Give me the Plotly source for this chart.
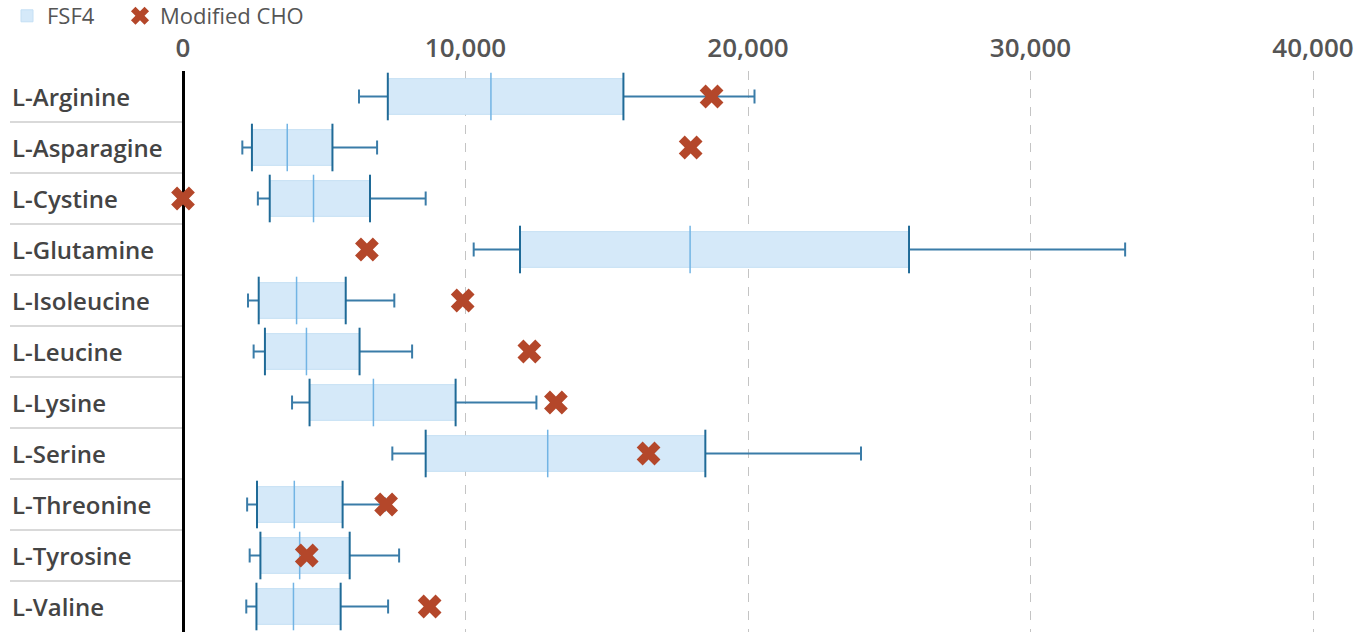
import plotly.graph_objects as go

# Amino acid concentrations: FSF4 distribution summary vs. Modified CHO
amino_acids = ["L-Arginine", "L-Asparagine", "L-Cystine", "L-Glutamine", "L-Isoleucine",
               "L-Leucine", "L-Lysine", "L-Serine", "L-Threonine", "L-Tyrosine", "L-Valine"]
fsf4_low = [6230, 2100, 2650, 10290, 2300, 2500, 3860, 7410, 2270, 2360, 2240]
fsf4_q1 = [7250, 2440, 3070, 11930, 2680, 2900, 4480, 8590, 2620, 2740, 2600]
fsf4_median = [10900, 3690, 4620, 17950, 4020, 4370, 6740, 12910, 3940, 4130, 3910]
fsf4_q3 = [15590, 5290, 6620, 25700, 5760, 6250, 9650, 18490, 5650, 5900, 5580]
fsf4_high = [20230, 6870, 8590, 33350, 7480, 8110, 12510, 24000, 7150, 7650, 7260]
modified_cho = [18710, 17970, 0, 6510, 9900, 12260, 13200, 16480, 7190, 4380, 8730]
tick_values = [0, 10000, 20000, 30000, 40000]
tick_text = ["0", "10,000", "20,000", "30,000", "40,000"]

W, H = 1368, 632
LABEL_PX = 10      # left edge of category labels
ZERO_PX = 183      # pixel position of the zero line
PX_PER_UNIT = 28.25 / 1000.0

x_min = -ZERO_PX / PX_PER_UNIT
x_max = (W - ZERO_PX) / PX_PER_UNIT

FONT = "Open Sans"
BOX_FILL = "#d5e9f9"
EDGE = "#1f6a97"
WHISKER = "#3a7ca8"
MEDIAN = "#72b4e4"
CHO = "#b4472a"

fig = go.Figure()

# interquartile range as a floating bar
fig.add_trace(go.Bar(
    y=amino_acids, x=[b - a for a, b in zip(fsf4_q1, fsf4_q3)], base=fsf4_q1,
    orientation="h", width=0.7, name="FSF4", legend="legend",
    marker=dict(color=BOX_FILL, line=dict(color="#c4dff4", width=1)),
    hoverinfo="skip",
))

# whiskers
wx, wy = [], []
for cat, lo, a, b, hi in zip(amino_acids, fsf4_low, fsf4_q1, fsf4_q3, fsf4_high):
    wx += [lo, a, None, b, hi, None]
    wy += [cat, cat, None, cat, cat, None]
fig.add_trace(go.Scatter(x=wx, y=wy, mode="lines", line=dict(color=WHISKER, width=2),
                         showlegend=False, hoverinfo="skip"))

# whisker caps
fig.add_trace(go.Scatter(
    x=fsf4_low + fsf4_high, y=amino_acids + amino_acids, mode="markers",
    marker=dict(symbol="line-ns", size=10, line=dict(color=WHISKER, width=2)),
    showlegend=False, hoverinfo="skip"))

# quartile edges
fig.add_trace(go.Scatter(
    x=fsf4_q1 + fsf4_q3, y=amino_acids + amino_acids, mode="markers",
    marker=dict(symbol="line-ns", size=34, line=dict(color=EDGE, width=2)),
    showlegend=False, hoverinfo="skip"))

# medians
fig.add_trace(go.Scatter(
    x=fsf4_median, y=amino_acids, mode="markers",
    marker=dict(symbol="line-ns", size=34, line=dict(color=MEDIAN, width=1.5)),
    showlegend=False, hoverinfo="skip"))

# Modified CHO values
fig.add_trace(go.Scatter(
    x=modified_cho, y=amino_acids, mode="markers", name="Modified CHO", legend="legend2",
    marker=dict(symbol="x", size=21, color=CHO, line=dict(width=0)),
    cliponaxis=False,
))

# category labels, left aligned
for cat in amino_acids:
    fig.add_annotation(x=LABEL_PX / W, xref="paper", y=cat, yref="y", text=cat,
                       showarrow=False, xanchor="left", yanchor="middle",
                       font=dict(family=FONT, size=24, color="#444444", weight=600))

# row separators beside the labels
for i in range(len(amino_acids) - 1):
    fig.add_shape(type="line", xref="paper", yref="y",
                  x0=LABEL_PX / W, x1=ZERO_PX / W, y0=i + 0.5, y1=i + 0.5,
                  line=dict(color="#cccccc", width=1.5), layer="below")

legend_style = dict(orientation="h", xanchor="left", yref="container", y=1 - 16 / H,
                    yanchor="middle", font=dict(family=FONT, size=22, color="#555555"),
                    itemwidth=30, bgcolor="rgba(0,0,0,0)")

fig.update_layout(
    width=W, height=H,
    margin=dict(l=0, r=0, t=71, b=0, autoexpand=False),
    plot_bgcolor="white", paper_bgcolor="white",
    showlegend=True,
    legend=dict(x=7 / W, **legend_style),
    legend2=dict(x=120 / W, **legend_style),
    xaxis=dict(
        side="top", range=[x_min, x_max], tickvals=tick_values, ticktext=tick_text,
        automargin=False,
        showgrid=True, gridcolor="#c4c4c4", griddash="dash", gridwidth=1,
        zeroline=True, zerolinecolor="#000000", zerolinewidth=2.5,
        ticks="", ticklabelstandoff=8, showline=False,
        tickfont=dict(family=FONT, size=26, color="#555555", weight=600),
    ),
    yaxis=dict(
        type="category", categoryorder="array", categoryarray=amino_acids,
        range=[len(amino_acids) - 0.5, -0.5], showticklabels=False, automargin=False,
        showgrid=False, zeroline=False, showline=False, ticks="",
    ),
    barmode="overlay",
)

fig.write_html("out.html")
